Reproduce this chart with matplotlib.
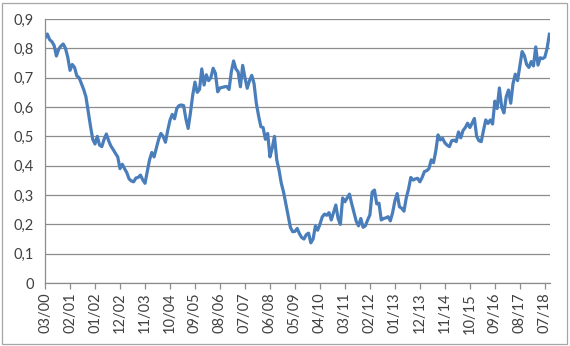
import matplotlib.pyplot as plt
from matplotlib.patches import Rectangle

# monthly values, 03/2000 .. 09/2018
values = [
    0.835, 0.849, 0.830, 0.823, 0.810, 0.774, 0.797, 0.808, 0.815, 0.800,
    0.770, 0.725, 0.745, 0.735, 0.706, 0.700, 0.680, 0.660, 0.635, 0.585,
    0.535, 0.490, 0.474, 0.500, 0.470, 0.465, 0.490, 0.508, 0.485, 0.467,
    0.455, 0.442, 0.430, 0.390, 0.405, 0.390, 0.376, 0.355, 0.348, 0.345,
    0.358, 0.360, 0.368, 0.352, 0.340, 0.380, 0.420, 0.445, 0.430, 0.460,
    0.490, 0.510, 0.500, 0.480, 0.520, 0.555, 0.575, 0.560, 0.595, 0.605,
    0.607, 0.605, 0.560, 0.527, 0.580, 0.640, 0.685, 0.650, 0.660, 0.730,
    0.675, 0.710, 0.690, 0.700, 0.732, 0.715, 0.652, 0.665, 0.667, 0.669,
    0.670, 0.660, 0.720, 0.757, 0.730, 0.720, 0.669, 0.742, 0.700, 0.664,
    0.690, 0.708, 0.680, 0.613, 0.570, 0.533, 0.530, 0.490, 0.510, 0.430,
    0.460, 0.500, 0.420, 0.385, 0.340, 0.310, 0.270, 0.230, 0.190, 0.175,
    0.176, 0.186, 0.168, 0.155, 0.150, 0.165, 0.170, 0.137, 0.150, 0.194,
    0.180, 0.200, 0.225, 0.235, 0.231, 0.240, 0.215, 0.240, 0.266, 0.220,
    0.200, 0.290, 0.277, 0.290, 0.303, 0.270, 0.240, 0.210, 0.195, 0.220,
    0.190, 0.195, 0.215, 0.232, 0.310, 0.317, 0.270, 0.272, 0.215, 0.220,
    0.222, 0.226, 0.212, 0.240, 0.280, 0.305, 0.260, 0.255, 0.245, 0.290,
    0.320, 0.360, 0.351, 0.355, 0.357, 0.345, 0.360, 0.380, 0.383, 0.390,
    0.420, 0.410, 0.450, 0.505, 0.488, 0.493, 0.478, 0.470, 0.465, 0.485,
    0.487, 0.482, 0.515, 0.495, 0.520, 0.530, 0.545, 0.530, 0.545, 0.561,
    0.500, 0.485, 0.482, 0.520, 0.556, 0.544, 0.556, 0.542, 0.620, 0.595,
    0.665, 0.600, 0.580, 0.635, 0.658, 0.613, 0.680, 0.712, 0.690, 0.740,
    0.789, 0.775, 0.745, 0.735, 0.755, 0.740, 0.805, 0.743, 0.768, 0.765,
    0.770, 0.800, 0.848,
]
tick_labels = ["03/00", "02/01", "01/02", "12/02", "11/03", "10/04", "09/05",
               "08/06", "07/07", "06/08", "05/09", "04/10", "03/11", "02/12",
               "01/13", "12/13", "11/14", "10/15", "09/16", "08/17", "07/18"]
y_ticks = [0, 0.1, 0.2, 0.3, 0.4, 0.5, 0.6, 0.7, 0.8, 0.9]
y_labels = ["0", "0,1", "0,2", "0,3", "0,4", "0,5", "0,6", "0,7", "0,8", "0,9"]

plt.rcParams['font.family'] = ['Lato', 'DejaVu Sans']

fig = plt.figure(figsize=(5.7, 3.46), dpi=100)
ax = fig.add_axes([0.079, 0.182, 0.886, 0.763])

ax.plot(range(len(values)), values, color='#4a7ebb', lw=2.3, solid_joinstyle='round')

ax.set_xlim(0, 222.3)
ax.set_ylim(0, 0.9)
ax.set_yticks(y_ticks)
ax.set_yticklabels(y_labels, fontsize=10.5, color='#404040')
ax.set_xticks([11 * k for k in range(len(tick_labels))])
ax.set_xticklabels(tick_labels, rotation=90, fontsize=10.5, color='#404040')

ax.grid(axis='y', color='#8c8c8c', lw=0.9)
ax.set_axisbelow(True)
ax.tick_params(axis='y', length=0, pad=8)
ax.tick_params(axis='x', length=4, width=0.9, color='#8c8c8c', pad=3)
for side in ['top', 'right']:
    ax.spines[side].set_visible(False)
for side in ['left', 'bottom']:
    ax.spines[side].set_color('#8c8c8c')
    ax.spines[side].set_linewidth(0.9)

# chart border
fig.patches.append(Rectangle((0.004, 0.006), 0.99, 0.986, transform=fig.transFigure,
                             fill=False, edgecolor='#a6a6a6', lw=0.9))

fig.savefig('out.png', dpi=100)
